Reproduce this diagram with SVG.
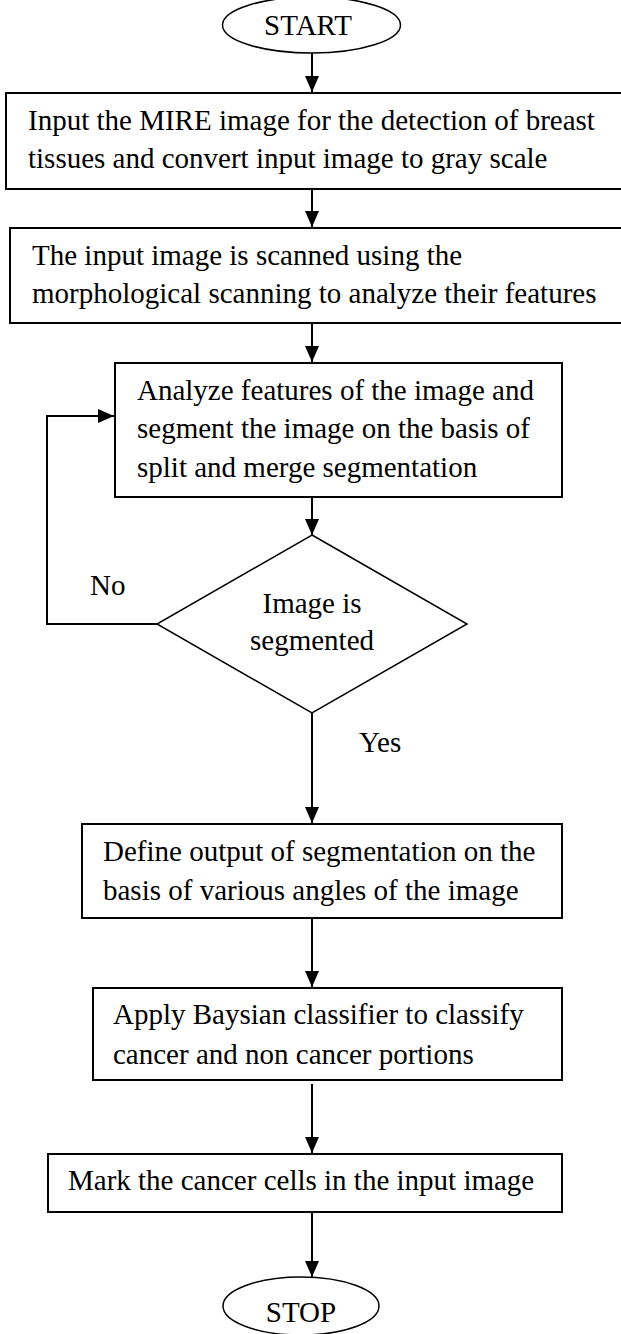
<svg xmlns="http://www.w3.org/2000/svg" width="621" height="1334" viewBox="0 0 621 1334">
  <style>
    .box { fill: #ffffff; stroke: #000000; stroke-width: 2; }
    .thin { fill: #ffffff; stroke: #000000; stroke-width: 1.5; }
    .lbl { font-family: "Liberation Serif", "Times New Roman", serif; font-size: 29px; fill: #000000; }
    .mid { text-anchor: middle; }
    .edge { fill: none; stroke: #000000; stroke-width: 2; }
  </style>
  <defs>
    <marker id="head" viewBox="0 0 16 14" refX="16" refY="7" markerWidth="16" markerHeight="14" markerUnits="userSpaceOnUse" orient="auto">
      <path d="M0,0 L16,7 L0,14 Z" fill="#000000"/>
    </marker>
  </defs>
  <rect width="621" height="1334" fill="#ffffff"/>

  <!-- connectors -->
  <g id="connectors">
    <line class="edge" x1="312" y1="53" x2="312" y2="92" marker-end="url(#head)"/>
    <line class="edge" x1="312" y1="189" x2="312" y2="227" marker-end="url(#head)"/>
    <line class="edge" x1="312" y1="323" x2="312" y2="362" marker-end="url(#head)"/>
    <line class="edge" x1="312" y1="497" x2="312" y2="535" marker-end="url(#head)"/>
    <polyline class="edge" points="157,624 47,624 47,416 114,416" marker-end="url(#head)"/>
    <line class="edge" x1="312" y1="713" x2="312" y2="823" marker-end="url(#head)"/>
    <line class="edge" x1="312" y1="918" x2="312" y2="987" marker-end="url(#head)"/>
    <line class="edge" x1="312" y1="1084" x2="312" y2="1153" marker-end="url(#head)"/>
    <line class="edge" x1="312" y1="1212" x2="312" y2="1277" marker-end="url(#head)"/>
    <text class="lbl" x="90" y="595">No</text>
    <text class="lbl" x="359" y="752">Yes</text>
  </g>

  <!-- start terminal -->
  <g id="start">
    <ellipse class="thin" cx="311.5" cy="25" rx="89" ry="28"/>
    <text class="lbl mid" x="308" y="35">START</text>
  </g>

  <!-- input step -->
  <g id="input">
    <rect class="box" x="6" y="93" width="620" height="96"/>
    <text class="lbl" x="28" y="130">Input the MIRE image for the detection of breast</text>
    <text class="lbl" x="28" y="168">tissues and convert input image to gray scale</text>
  </g>

  <!-- scanning step -->
  <g id="scan">
    <rect class="box" x="10" y="228" width="616" height="95"/>
    <text class="lbl" x="32" y="265">The input image is scanned using the</text>
    <text class="lbl" x="32" y="303">morphological scanning to analyze their features</text>
  </g>

  <!-- analysis / segmentation step -->
  <g id="analyze">
    <rect class="box" x="115" y="363" width="447" height="134"/>
    <text class="lbl" x="137" y="400">Analyze features of the image and</text>
    <text class="lbl" x="137" y="438">segment the image on the basis of</text>
    <text class="lbl" x="137" y="477">split and merge segmentation</text>
  </g>

  <!-- decision -->
  <g id="decision">
    <polygon class="thin" points="312,535 467,624 312,713 157,624"/>
    <text class="lbl mid" x="312" y="613">Image is</text>
    <text class="lbl mid" x="312" y="650">segmented</text>
  </g>

  <!-- output definition step -->
  <g id="define">
    <rect class="box" x="82" y="824" width="480" height="94"/>
    <text class="lbl" x="103" y="861">Define output of segmentation on the</text>
    <text class="lbl" x="103" y="900">basis of various angles of the image</text>
  </g>

  <!-- classification step -->
  <g id="classify">
    <rect class="box" x="93" y="988" width="469" height="92"/>
    <text class="lbl" x="113" y="1024">Apply Baysian classifier to classify</text>
    <text class="lbl" x="113" y="1064">cancer and non cancer portions</text>
  </g>

  <!-- marking step -->
  <g id="mark">
    <rect class="box" x="48" y="1154" width="514" height="58"/>
    <text class="lbl" x="68" y="1190">Mark the cancer cells in the input image</text>
  </g>

  <!-- stop terminal -->
  <g id="stop">
    <ellipse class="thin" cx="301" cy="1306" rx="78" ry="29"/>
    <text class="lbl mid" x="301" y="1322">STOP</text>
  </g>
</svg>
